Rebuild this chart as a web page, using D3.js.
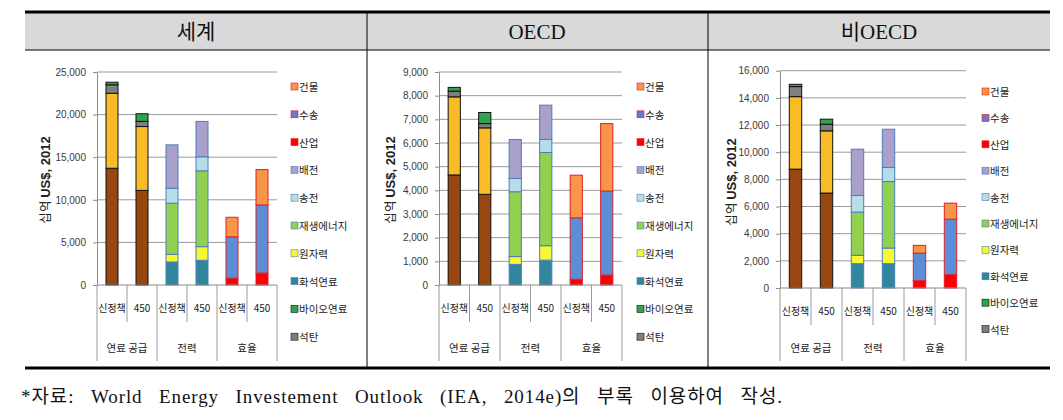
<!DOCTYPE html>
<html><head><meta charset="utf-8">
<script src="https://cdn.jsdelivr.net/npm/d3@7"></script>
<style>
body{margin:0;background:#fff;}
svg{display:block;}
</style></head>
<body>
<svg id="chart" width="1063" height="420"></svg>
<script>
// ---------- DATA ----------
const regionTitles = ["세계", "OECD", "비OECD"];
const subLabels = ["신정책", "450", "신정책", "450", "신정책", "450"];
const groupLabels = ["연료 공급", "전력", "효율"];
// series stacked bottom -> top
const seriesNames = ["석유", "가스", "석탄", "바이오연료", "화석연료", "원자력", "재생에너지", "송전", "배전", "산업", "수송", "건물"];
const legendNames = ["건물", "수송", "산업", "배전", "송전", "재생에너지", "원자력", "화석연료", "바이오연료", "석탄"];
const yMaxes = [25000, 9000, 16000];
const ySteps = [5000, 1000, 2000];
// rows = series (same order as seriesNames), columns = bars (subLabels)
const worldValues = [
  [13700, 11100, 0, 0, 0, 0],
  [8800, 7500, 0, 0, 0, 0],
  [1000, 600, 0, 0, 0, 0],
  [300, 900, 0, 0, 0, 0],
  [0, 0, 2700, 2900, 0, 0],
  [0, 0, 900, 1600, 0, 0],
  [0, 0, 6000, 8900, 0, 0],
  [0, 0, 1750, 1650, 0, 0],
  [0, 0, 5100, 4150, 0, 0],
  [0, 0, 0, 0, 800, 1400],
  [0, 0, 0, 0, 4850, 8000],
  [0, 0, 0, 0, 2300, 4150]
];
const oecdValues = [
  [4650, 3830, 0, 0, 0, 0],
  [3300, 2810, 0, 0, 0, 0],
  [240, 180, 0, 0, 0, 0],
  [160, 470, 0, 0, 0, 0],
  [0, 0, 870, 1050, 0, 0],
  [0, 0, 330, 610, 0, 0],
  [0, 0, 2740, 3940, 0, 0],
  [0, 0, 560, 550, 0, 0],
  [0, 0, 1650, 1450, 0, 0],
  [0, 0, 0, 0, 240, 420],
  [0, 0, 0, 0, 2600, 3550],
  [0, 0, 0, 0, 1800, 2850]
];
const nonOecdValues = [
  [8750, 6990, 0, 0, 0, 0],
  [5340, 4580, 0, 0, 0, 0],
  [740, 490, 0, 0, 0, 0],
  [170, 370, 0, 0, 0, 0],
  [0, 0, 1790, 1790, 0, 0],
  [0, 0, 610, 1150, 0, 0],
  [0, 0, 3190, 4900, 0, 0],
  [0, 0, 1220, 1030, 0, 0],
  [0, 0, 3410, 2820, 0, 0],
  [0, 0, 0, 0, 540, 980],
  [0, 0, 0, 0, 2030, 4090],
  [0, 0, 0, 0, 570, 1180]
];
const yTitleKR = "십억";
const yTitleEN = "US$, 2012";
const footnote = "*자료: World Energy Investement Outlook (IEA, 2014e)의 부록 이용하여 작성.";

// ---------- STYLE ----------
const fills = {
  "석유": "#97470f", "가스": "#f9bb26", "석탄": "#7f7f7f", "바이오연료": "#2ea44f",
  "화석연료": "#31859c", "원자력": "#f7f734", "재생에너지": "#92d050", "송전": "#b7dee8",
  "배전": "#a9a0cc", "산업": "#ff0000", "수송": "#5b8ed6", "건물": "#f79646"
};
const strokes = {
  "석유": "#111", "가스": "#111", "석탄": "#111", "바이오연료": "#111",
  "화석연료": "#4a7ebb", "원자력": "#4a7ebb", "재생에너지": "#4a7ebb", "송전": "#4a7ebb",
  "배전": "#4a7ebb", "산업": "#e0202a", "수송": "#e0202a", "건물": "#e0202a"
};
const legendFill = Object.assign({}, fills, {"수송": "#6a78c8"});

const layouts = [
  {x0: 97, slot: 30, yTop: 72, yBase: 285, legX: 291, legY: 87, legDy: 27.8, titleX: 50, titleY: 180, cx: 196},
  {x0: 439, slot: 30.5, yTop: 72, yBase: 285, legX: 637, legY: 87, legDy: 27.8, titleX: 395, titleY: 180, cx: 537},
  {x0: 780, slot: 31, yTop: 70.7, yBase: 288, legX: 982, legY: 92, legDy: 26.4, titleX: 736, titleY: 182, cx: 879}
];
const regionValues = [worldValues, oecdValues, nonOecdValues];

const svg = d3.select("#chart");
const sansKR = "'Noto Sans CJK KR', 'Noto Sans', sans-serif";
const serif = "'Liberation Serif', 'Noto Sans CJK KR', serif";

// ---------- TABLE FRAME ----------
const tblL = 25, tblR = 1050, tblTop = 12, hdrBot = 50, tblBot = 368;
svg.append("rect").attr("x", tblL).attr("y", tblTop).attr("width", tblR - tblL).attr("height", hdrBot - tblTop).attr("fill", "#d9d9d9");
[367, 708].forEach(x => svg.append("line").attr("x1", x).attr("x2", x).attr("y1", tblTop).attr("y2", tblBot).attr("stroke", "#000").attr("stroke-width", 1));
svg.append("line").attr("x1", tblL).attr("x2", tblR).attr("y1", hdrBot).attr("y2", hdrBot).attr("stroke", "#000").attr("stroke-width", 1.2);
svg.append("line").attr("x1", tblL).attr("x2", tblR).attr("y1", tblTop).attr("y2", tblTop).attr("stroke", "#000").attr("stroke-width", 3);
svg.append("line").attr("x1", tblL).attr("x2", tblR).attr("y1", tblBot).attr("y2", tblBot).attr("stroke", "#000").attr("stroke-width", 3);

// ---------- PANELS ----------
regionTitles.forEach((title, p) => {
  const L = layouts[p];
  const values = regionValues[p];
  const g = svg.append("g");

  g.append("text").attr("x", L.cx).attr("y", 39).attr("text-anchor", "middle")
    .attr("font-family", serif).attr("font-size", 21).attr("fill", "#111").text(title);

  const bars = subLabels.map((s, i) => {
    const o = {i};
    seriesNames.forEach((n, k) => o[n] = values[k][i]);
    return o;
  });
  const x = d3.scaleBand().domain(d3.range(subLabels.length))
    .range([L.x0, L.x0 + L.slot * subLabels.length]).paddingInner(0.6).paddingOuter(0.3);
  const y = d3.scaleLinear().domain([0, yMaxes[p]]).range([L.yBase, L.yTop]);
  const xR = L.x0 + L.slot * subLabels.length;

  // gridlines
  const ticks = d3.range(0, yMaxes[p] + 1, ySteps[p]);
  g.selectAll(".grid").data(ticks.slice(1)).join("line")
    .attr("x1", L.x0).attr("x2", xR).attr("y1", d => y(d)).attr("y2", d => y(d))
    .attr("stroke", "#9a9a9a").attr("stroke-width", 1);

  // y axis
  const ya = g.append("g").attr("transform", `translate(${L.x0},0)`)
    .call(d3.axisLeft(y).tickValues(ticks).tickFormat(d3.format(",")).tickSizeInner(4).tickSizeOuter(0).tickPadding(7));
  ya.select(".domain").attr("stroke", "#8a8a8a");
  ya.selectAll(".tick line").attr("stroke", "#8a8a8a");
  ya.selectAll("text").attr("font-family", "'Liberation Sans', Arial, sans-serif").attr("font-size", 10).attr("fill", "#3a3a3a");

  // y title
  const yt = g.append("text").attr("transform", `translate(${L.titleX},${L.titleY}) rotate(-90)`)
    .attr("text-anchor", "middle").attr("fill", "#222");
  yt.append("tspan").attr("font-family", sansKR).attr("font-size", 12.5).text(yTitleKR + " ");
  yt.append("tspan").attr("font-family", "'Liberation Sans', Arial, sans-serif").attr("font-size", 13)
    .attr("font-weight", "bold").text(yTitleEN);

  // stacked bars
  const stack = d3.stack().keys(seriesNames)(bars);
  g.selectAll(".series").data(stack).join("g")
    .attr("fill", d => fills[d.key]).attr("stroke", d => strokes[d.key]).attr("stroke-width", 1)
    .selectAll("rect").data(d => d.filter(v => v[1] - v[0] > 0)).join("rect")
    .attr("x", d => x(d.data.i)).attr("width", x.bandwidth())
    .attr("y", d => y(d[1])).attr("height", d => y(d[0]) - y(d[1]));

  // category axis
  g.append("line").attr("x1", L.x0).attr("x2", xR).attr("y1", L.yBase).attr("y2", L.yBase).attr("stroke", "#8a8a8a");
  d3.range(subLabels.length + 1).forEach(k => {
    const xx = L.x0 + k * L.slot;
    const isGroup = k % 2 === 0;
    g.append("line").attr("x1", xx).attr("x2", xx).attr("y1", L.yBase)
      .attr("y2", isGroup ? 361 : L.yBase + 37).attr("stroke", "#9a9a9a");
  });
  g.selectAll(".sub").data(subLabels).join("text")
    .attr("x", (d, i) => x(i) + x.bandwidth() / 2).attr("y", L.yBase + 27)
    .attr("text-anchor", "middle").attr("font-family", sansKR).attr("font-size", 10).attr("fill", "#222").text(d => d);
  g.selectAll(".grp").data(groupLabels).join("text")
    .attr("x", (d, i) => L.x0 + (i * 2 + 1) * L.slot).attr("y", 352)
    .attr("text-anchor", "middle").attr("font-family", sansKR).attr("font-size", 10.5).attr("fill", "#222").text(d => d);

  // legend
  const lg = g.selectAll(".leg").data(legendNames).join("g")
    .attr("transform", (d, i) => `translate(${L.legX},${L.legY + i * L.legDy})`);
  lg.append("rect").attr("x", 0).attr("y", -4).attr("width", 7).attr("height", 7)
    .attr("fill", d => legendFill[d]).attr("stroke", d => strokes[d]).attr("stroke-width", 0.6);
  lg.append("text").attr("x", 8).attr("y", 4).attr("font-family", sansKR).attr("font-size", 10.5)
    .attr("fill", "#222").text(d => d);
});

// footnote: slightly tracked letters, wider word gaps to fill the line
const fn = svg.append("text").attr("x", 21).attr("y", 403).attr("font-family", serif).attr("font-size", 19)
  .attr("letter-spacing", 0.9).attr("fill", "#111").text(footnote);
const natural = fn.node().getComputedTextLength();
const nSpaces = (footnote.match(/ /g) || []).length;
const ws = Math.max(0, (762 - natural) / nSpaces);
fn.attr("word-spacing", ws);
</script>
</body></html>
